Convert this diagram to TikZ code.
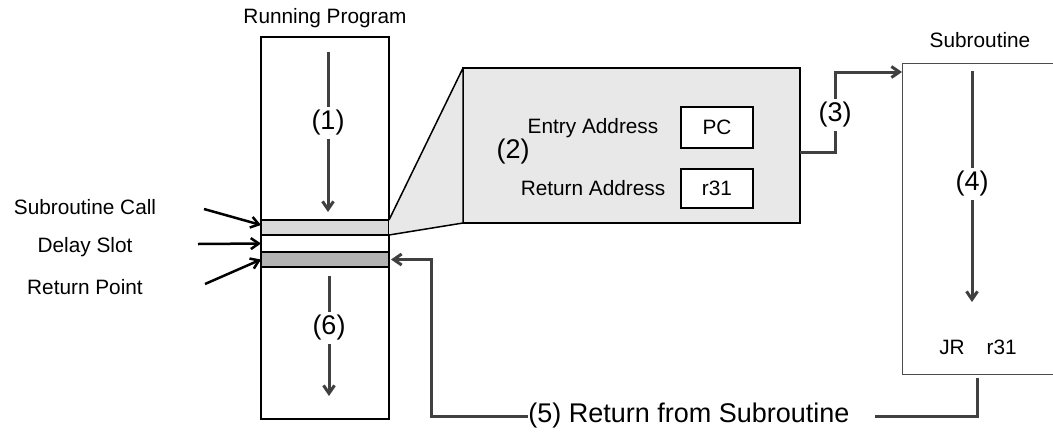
\documentclass[tikz,border=0pt]{standalone}
\usepackage{fontspec}
\setmainfont{Liberation Sans}
\usetikzlibrary{arrows.meta}
\definecolor{flowgray}{HTML}{404040}
\definecolor{slotgray}{HTML}{D9D9D9}
\definecolor{retgray}{HTML}{B3B3B3}
\definecolor{zoomgray}{HTML}{E8E8E8}
\newcommand{\txtfont}{\fontsize{10.4}{12}\selectfont}
\newcommand{\numfont}{\fontsize{13.5}{15}\selectfont}
\tikzset{
	box/.style={draw, line width=0.75pt, inner sep=0pt, outer sep=0pt},
	slot/.style={box, minimum width=64pt, minimum height=7.5pt},
	flow/.style={draw=flowgray, line width=1.5pt},
	flowarr/.style={flow, -{Straight Barb[length=4pt,width=5.5pt]}},
	callarr/.style={line width=1.25pt, -{Straight Barb[length=4pt,width=5.5pt]}},
	numlbl/.style={font=\numfont, inner sep=1.5pt},
	lbl/.style={font=\txtfont}
}

\begin{document}
\begin{tikzpicture}[x=0.5pt,y=-0.5pt]
	\useasboundingbox (0,0) rectangle (1053,434);

	% running program
	\node[lbl] (progtitle) at (325,18) {Running Program};
	\node[box, minimum width=64pt, minimum height=191pt] (prog) at (325,228) {};
	\node[slot, fill=slotgray] (callslot) at (325,227.5) {};
	\node[slot, minimum height=8.5pt] (delayslot) at (325,243.5) {};
	\node[slot, fill=retgray] (retslot) at (325,259.5) {};

	\node[lbl] (calllbl) at (85,207) {Subroutine Call};
	\node[lbl] (delaylbl) at (85,247) {Delay Slot};
	\node[lbl] (retptlbl) at (85,287) {Return Point};
	\coordinate (callsrc) at (204,209);
	\coordinate (delaysrc) at (198,244);
	\coordinate (retsrc) at (205,284);
	\draw[callarr] (callsrc) -- ([yshift=1.25pt]callslot.west);
	\draw[callarr] (delaysrc) -- (delayslot.west);
	\draw[callarr] (retsrc) -- (retslot.west);

	% zoomed call
	\node[box, fill=zoomgray, minimum width=168.5pt, minimum height=77.5pt] (zoom) at (631.5,145.5) {};
	\filldraw[fill=zoomgray, line width=0.75pt, line join=round] (callslot.north east) -- (zoom.north west) -- (zoom.south west) -- (callslot.south east);
	\node[lbl] (entrylbl) at (593,128) {Entry Address};
	\node[lbl] (retlbl) at (593,188) {Return Address};
	\node[numlbl] (lab2) at (513,152) {(2)};
	\node[box, fill=white, font=\txtfont, minimum width=36pt, minimum height=20.5pt] (pcreg) at (717,127.5) {PC};
	\node[box, fill=white, font=\txtfont, minimum width=36pt, minimum height=19.5pt] (rareg) at (717,188.5) {r31};

	% subroutine
	\node[lbl] (subtitle) at (980,40) {Subroutine};
	\node[box, draw=black!70, line width=0.5pt, minimum width=78pt, minimum height=155.5pt] (sub) at (980,218.5) {};
	\node[lbl] (jr) at (978,347) {JR\hspace{11pt}r31};

	% flow
	\coordinate (f1top) at (328,52);
	\coordinate (f1bot) at (328,212);
	\node[numlbl] (lab1) at (328,123) {(1)};
	\draw[flow] (f1top) -- (lab1);
	\draw[flowarr] (lab1) -- (f1bot);

	\node[numlbl] (lab3) at (835,115) {(3)};
	\draw[flow] ([yshift=-3.25pt]zoom.east) -| (lab3.south);
	\draw[flowarr] (lab3.north) |- ([yshift=-4.5pt]sub.north west);

	\coordinate (f4top) at (972,71);
	\coordinate (f4bot) at (972,302);
	\node[numlbl] (lab4) at (972,184) {(4)};
	\draw[flow] (f4top) -- (lab4);
	\draw[flowarr] (lab4) -- (f4bot);

	\node[numlbl, anchor=west, inner sep=0pt] (lab5) at (528,416) {(5) Return from Subroutine};
	\coordinate (bend5) at (431,416);
	\draw[flow] ([xshift=-1.5pt, yshift=-2pt]sub.south) |- ([xshift=12.5pt]lab5.east);
	\draw[flowarr, shorten >=1pt] (lab5.west) -- (bend5) |- (retslot.east);

	\coordinate (f6top) at (329,276);
	\coordinate (f6bot) at (329,396);
	\node[numlbl] (lab6) at (329,328) {(6)};
	\draw[flow] (f6top) -- (lab6);
	\draw[flowarr] (lab6) -- (f6bot);
\end{tikzpicture}
\end{document}
